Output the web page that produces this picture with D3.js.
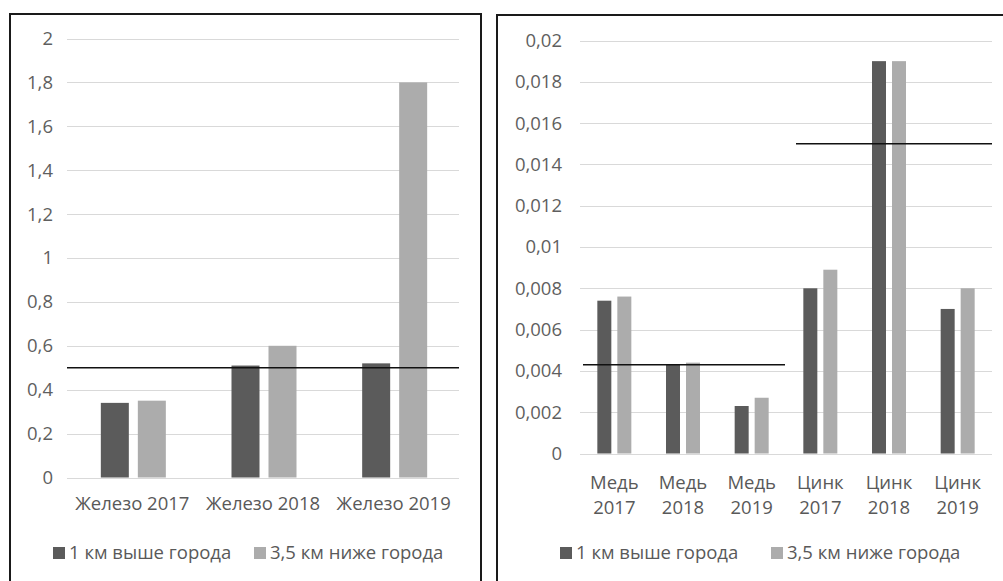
<!DOCTYPE html>
<html><head><meta charset="utf-8">
<script src="https://cdn.jsdelivr.net/npm/d3@7"></script>
<style>
body{margin:0;background:#fff;}
svg text{font-family:"Open Sans",sans-serif;fill:#595959;}
</style></head>
<body><svg id="c" width="1003" height="581"></svg>
<script>
// ---- data ----
const seriesNames = ["1 км выше города", "3,5 км ниже города"];
const ironCats = ["Железо 2017", "Железо 2018", "Железо 2019"];
const ironAbove = [0.34, 0.51, 0.52];
const ironBelow = [0.35, 0.60, 1.80];
const ironTicks = ["0","0,2","0,4","0,6","0,8","1","1,2","1,4","1,6","1,8","2"];
const ironLimit = [{from: "Железо 2017", to: "Железо 2019", value: 0.5}];

const metalCats = ["Медь 2017", "Медь 2018", "Медь 2019", "Цинк 2017", "Цинк 2018", "Цинк 2019"];
const metalAbove = [0.0074, 0.0043, 0.0023, 0.0080, 0.0190, 0.0070];
const metalBelow = [0.0076, 0.0044, 0.0027, 0.0089, 0.0190, 0.0080];
const metalTicks = ["0","0,002","0,004","0,006","0,008","0,01","0,012","0,014","0,016","0,018","0,02"];
const metalLimit = [
  {from: "Медь 2017", to: "Медь 2019", value: 0.0043},
  {from: "Цинк 2017", to: "Цинк 2019", value: 0.015}
];

const colors = ["#5b5b5b", "#acacac"];
const svg = d3.select("#c");

function panel(o) {
  const g = svg.append("g");
  g.append("path").attr("d", `M${o.fx0},581V${o.fy}H${o.fx1}V581`)
    .attr("fill","none").attr("stroke","#1a1a1a").attr("stroke-width",2);
  const x = d3.scaleBand().domain(o.cats).range([o.x0, o.x1]);
  const y = d3.scaleLinear().domain([0, o.max]).range([o.y0, o.y1]);
  const ticks = d3.range(o.tickLabels.length).map(i => o.max * i / (o.tickLabels.length - 1));
  g.append("g").selectAll("line").data(ticks).join("line")
    .attr("x1", o.x0).attr("x2", o.x1)
    .attr("y1", d => Math.round(y(d)) + 0.5).attr("y2", d => Math.round(y(d)) + 0.5)
    .attr("stroke", "#d9d9d9").attr("stroke-width", 1);
  const ya = d3.axisLeft(y).tickValues(ticks).tickSize(0).tickPadding(0)
    .tickFormat((d, i) => o.tickLabels[i]);
  const yg = g.append("g").attr("transform", `translate(${o.labelX},0)`).call(ya);
  yg.select(".domain").remove();
  yg.selectAll("text").attr("font-size", o.fs).style("fill", "#5f5f5f")
    .attr("font-family", "Open Sans");
  const bw = o.bw, gap = o.gap;
  [o.above, o.below].forEach((arr, s) => {
    g.append("g").selectAll("rect").data(arr).join("rect")
      .attr("x", (d, i) => x(o.cats[i]) + x.bandwidth()/2 + (s === 0 ? -gap/2 - bw : gap/2) + o.shift)
      .attr("width", bw)
      .attr("y", d => y(d)).attr("height", d => y(0) - y(d))
      .attr("fill", colors[s]);
  });
  g.append("g").selectAll("line").data(o.limits).join("line")
    .attr("x1", (d, i) => x(d.from) + o.limPads[i][0])
    .attr("x2", (d, i) => x(d.to) + x.bandwidth() - o.limPads[i][1])
    .attr("y1", d => y(d.value)).attr("y2", d => y(d.value))
    .attr("stroke", "#111").attr("stroke-width", 1.6);
  const xl = g.append("g").selectAll("text").data(o.cats).join("text")
    .attr("text-anchor", "middle").attr("font-size", o.fs)
    .attr("x", d => x(d) + x.bandwidth()/2);
  if (o.wrap) {
    xl.each(function(d) {
      const parts = d.split(" ");
      d3.select(this).selectAll("tspan").data(parts).join("tspan")
        .attr("x", x(d) + x.bandwidth()/2)
        .attr("y", (p, i) => o.xLabelY + i * 25).text(p => p);
    });
  } else {
    xl.attr("y", o.xLabelY).text(d => d);
  }
  const lg = g.append("g");
  seriesNames.forEach((n, i) => {
    lg.append("rect").attr("x", o.legX[i]).attr("y", o.legY - 12).attr("width", 12).attr("height", 12)
      .attr("fill", colors[i]);
    lg.append("text").attr("x", o.legX[i] + 16).attr("y", o.legY).attr("font-size", o.fs).text(n);
  });
}

panel({
  cats: ironCats, above: ironAbove, below: ironBelow, max: 2, tickLabels: ironTicks,
  limits: ironLimit, limPads: [[0, 0]], fx0: 10, fx1: 481, fy: 14,
  x0: 67, x1: 459, y0: 477.5, y1: 38.5, labelX: 53, fs: 18.5,
  bw: 28, gap: 9, shift: 1, xLabelY: 510, wrap: false,
  legX: [53, 254], legY: 559
});
panel({
  cats: metalCats, above: metalAbove, below: metalBelow, max: 0.02, tickLabels: metalTicks,
  limits: metalLimit, limPads: [[3, 1], [10, 0]], fx0: 497, fx1: 1010, fy: 15,
  x0: 580, x1: 992, y0: 453.5, y1: 40.5, labelX: 562, fs: 18.5,
  bw: 14, gap: 6, shift: 0, xLabelY: 489, wrap: true,
  legX: [560, 771], legY: 559
});
</script></body></html>
